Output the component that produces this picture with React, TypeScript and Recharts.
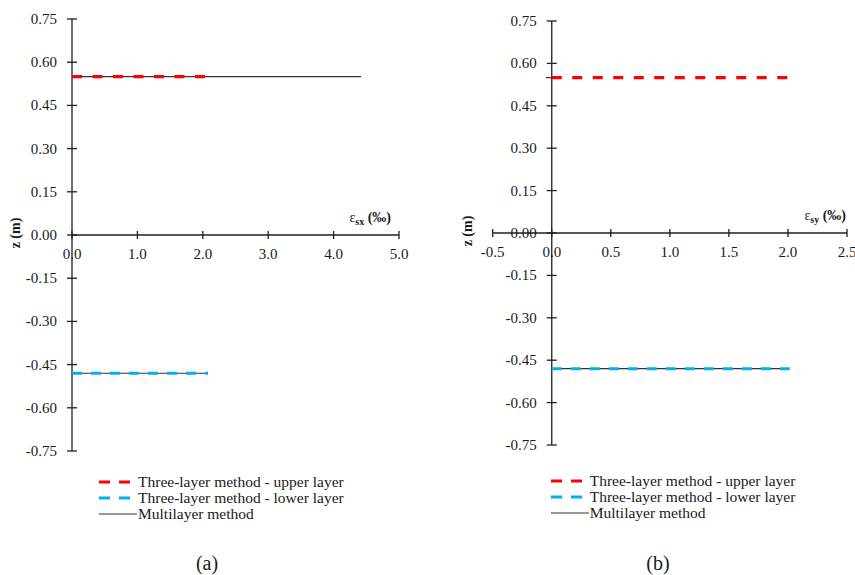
import React from "react";
import {
  LineChart,
  Line,
  XAxis,
  YAxis,
  ReferenceLine,
  ReferenceDot,
  Legend,
} from "recharts";

// tick values
const Z_TICKS = [0.75, 0.6, 0.45, 0.3, 0.15, 0, -0.15, -0.3, -0.45, -0.6, -0.75];
const X_TICKS_A = [0, 1, 2, 3, 4, 5];
const X_TICKS_B = [-0.5, 0, 0.5, 1, 1.5, 2, 2.5];

// (a) eps_sx
const upperA = [
  { eps: 0, z: 0.55 },
  { eps: 2.08, z: 0.55 },
];
const lowerA = [
  { eps: 0, z: -0.48 },
  { eps: 2.08, z: -0.48 },
];
const multiA = [
  { eps: 0, z: 0.55 },
  { eps: 4.42, z: 0.55 },
  { eps: 4.42, z: null },
  { eps: 0, z: -0.48 },
  { eps: 2.08, z: -0.48 },
];

// (b) eps_sy
const upperB = [
  { eps: 0, z: 0.55 },
  { eps: 2.04, z: 0.55 },
];
const lowerB = [
  { eps: 0, z: -0.48 },
  { eps: 2.08, z: -0.48 },
];
const multiB = [
  { eps: -0.05, z: 0.55 },
  { eps: 0, z: 0.55 },
  { eps: 0, z: null },
  { eps: 0, z: -0.48 },
  { eps: 1.99, z: -0.48 },
];

const SERIES_NAMES = [
  "Three-layer method - upper layer",
  "Three-layer method - lower layer",
  "Multilayer method",
];

const FONT = '"Liberation Serif", "Times New Roman", serif';
const AXIS = "#1f1f1f";
const RED = "#ff0000";
const BLUE = "#00b0f0";
const BLACK = "#333333";

const LegendBox = () => {
  const items = [
    { name: SERIES_NAMES[0], color: RED, dash: "11 9", w: 3, len: 32 },
    { name: SERIES_NAMES[1], color: BLUE, dash: "11 9", w: 3, len: 32 },
    { name: SERIES_NAMES[2], color: BLACK, dash: undefined, w: 1.2, len: 38 },
  ];
  return (
    <div style={{ fontFamily: FONT, fontSize: 15.5, color: "#1a1a1a" }}>
      {items.map((it) => (
        <div
          key={it.name}
          style={{ display: "flex", alignItems: "center", height: 16.3, whiteSpace: "nowrap" }}>
          <svg width={38} height={16} style={{ flex: "none" }}>
            <line
              x1={0}
              y1={8}
              x2={it.len}
              y2={8}
              stroke={it.color}
              strokeWidth={it.w}
              strokeDasharray={it.dash}
            />
          </svg>
          <span style={{ marginLeft: 1 }}>{it.name}</span>
        </div>
      ))}
    </div>
  );
};

type Pt = { eps: number; z: number | null };

type PanelProps = {
  width: number;
  margin: { top: number; left: number; right: number; bottom: number };
  xDomain: [number, number];
  xTicks: number[];
  upper: Pt[];
  lower: Pt[];
  multi: Pt[];
  sub: string;
  epsDx: number;
  zDx: number;
  legendPos: { left: number; top: number };
};

function Panel({
  width,
  margin,
  xDomain,
  xTicks,
  upper,
  lower,
  multi,
  sub,
  epsDx,
  zDx,
  legendPos,
}: PanelProps) {
  return (
    <LineChart width={width} height={575} margin={margin}>
      <XAxis type="number" dataKey="eps" domain={xDomain} hide allowDataOverflow />
      <YAxis type="number" dataKey="z" domain={[-0.75, 0.75]} hide allowDataOverflow />

      {/* axes crossing at the origin */}
      <ReferenceLine y={0} stroke={AXIS} strokeWidth={1.3} />
      <ReferenceLine x={0} stroke={AXIS} strokeWidth={1.3} />

      {xTicks.map((t) => (
        <ReferenceDot
          key={`x-${t}`}
          x={t}
          y={0}
          r={0}
          ifOverflow="visible"
          shape={(p: any) => (
            <g>
              <line x1={p.cx} y1={p.cy - 4} x2={p.cx} y2={p.cy + 4} stroke={AXIS} strokeWidth={1.3} />
              <text
                x={p.cx}
                y={p.cy + 24}
                textAnchor="middle"
                fontFamily={FONT}
                fontSize={15}
                fill="#1a1a1a">
                {t.toFixed(1)}
              </text>
            </g>
          )}
        />
      ))}

      {Z_TICKS.map((t) => (
        <ReferenceDot
          key={`z-${t}`}
          x={0}
          y={t}
          r={0}
          ifOverflow="visible"
          shape={(p: any) => (
            <g>
              <line x1={p.cx - 5} y1={p.cy} x2={p.cx + 5} y2={p.cy} stroke={AXIS} strokeWidth={1.3} />
              <text
                x={p.cx - 15}
                y={p.cy + 5}
                textAnchor="end"
                fontFamily={FONT}
                fontSize={15}
                fill="#1a1a1a">
                {t.toFixed(2)}
              </text>
            </g>
          )}
        />
      ))}

      {/* axis titles */}
      <ReferenceDot
        x={xDomain[1]}
        y={0}
        r={0}
        ifOverflow="visible"
        shape={(p: any) => (
          <text
            x={p.cx + epsDx}
            y={p.cy - 13}
            textAnchor="end"
            fontFamily={FONT}
            fontSize={14}
            fontWeight="bold"
            fill="#1a1a1a">
            <tspan fontWeight="normal">ε</tspan>
            <tspan fontSize={10} dy={3}>
              {sub}
            </tspan>
            <tspan dy={-3}> (‰)</tspan>
          </text>
        )}
      />
      <ReferenceDot
        x={xDomain[0]}
        y={0}
        r={0}
        ifOverflow="visible"
        shape={(p: any) => (
          <text
            x={p.cx + zDx}
            y={p.cy - 2}
            transform={`rotate(-90, ${p.cx + zDx}, ${p.cy - 2})`}
            textAnchor="middle"
            dominantBaseline="central"
            fontFamily={FONT}
            fontSize={14}
            fontWeight="bold"
            fill="#1a1a1a">
            z (m)
          </text>
        )}
      />

      <Line
        data={multi}
        dataKey="z"
        name={SERIES_NAMES[2]}
        stroke={BLACK}
        strokeWidth={1.2}
        dot={false}
        isAnimationActive={false}
      />
      <Line
        data={upper}
        dataKey="z"
        name={SERIES_NAMES[0]}
        stroke={RED}
        strokeWidth={3.3}
        strokeDasharray="10 10.5"
        dot={false}
        isAnimationActive={false}
      />
      <Line
        data={lower}
        dataKey="z"
        name={SERIES_NAMES[1]}
        stroke={BLUE}
        strokeWidth={3}
        strokeDasharray="10 9"
        dot={false}
        isAnimationActive={false}
      />

      <Legend
        layout="vertical"
        align="center"
        verticalAlign="middle"
        content={() => <LegendBox />}
        wrapperStyle={{ left: legendPos.left, top: legendPos.top, width: 320 }}
      />
    </LineChart>
  );
}

export default function App() {
  return (
    <div
      style={{
        position: "absolute",
        left: 0,
        top: 0,
        width: 855,
        height: 575,
        background: "#fff",
        fontFamily: FONT,
      }}>
      <div style={{ position: "absolute", left: 0, top: 0 }}>
        <Panel
          width={420}
          margin={{ top: 19, left: 72, right: 21, bottom: 124 }}
          xDomain={[0, 5]}
          xTicks={X_TICKS_A}
          upper={upperA}
          lower={lowerA}
          multi={multiA}
          sub="sx"
          epsDx={-8}
          zDx={-57}
          legendPos={{ left: 99, top: 473.5 }}
        />
      </div>
      <div style={{ position: "absolute", left: 420, top: 0 }}>
        <Panel
          width={435}
          margin={{ top: 21, left: 72.7, right: 8, bottom: 130 }}
          xDomain={[-0.5, 2.5]}
          xTicks={X_TICKS_B}
          upper={upperB}
          lower={lowerB}
          multi={multiB}
          sub="sy"
          epsDx={-1}
          zDx={-25.7}
          legendPos={{ left: 130.7, top: 472.7 }}
        />
      </div>
      <div
        style={{
          position: "absolute",
          left: 157,
          top: 552,
          width: 100,
          textAlign: "center",
          fontSize: 20,
          lineHeight: "22px",
          color: "#1a1a1a",
        }}>
        (a)
      </div>
      <div
        style={{
          position: "absolute",
          left: 608,
          top: 552,
          width: 100,
          textAlign: "center",
          fontSize: 20,
          lineHeight: "22px",
          color: "#1a1a1a",
        }}>
        (b)
      </div>
    </div>
  );
}
